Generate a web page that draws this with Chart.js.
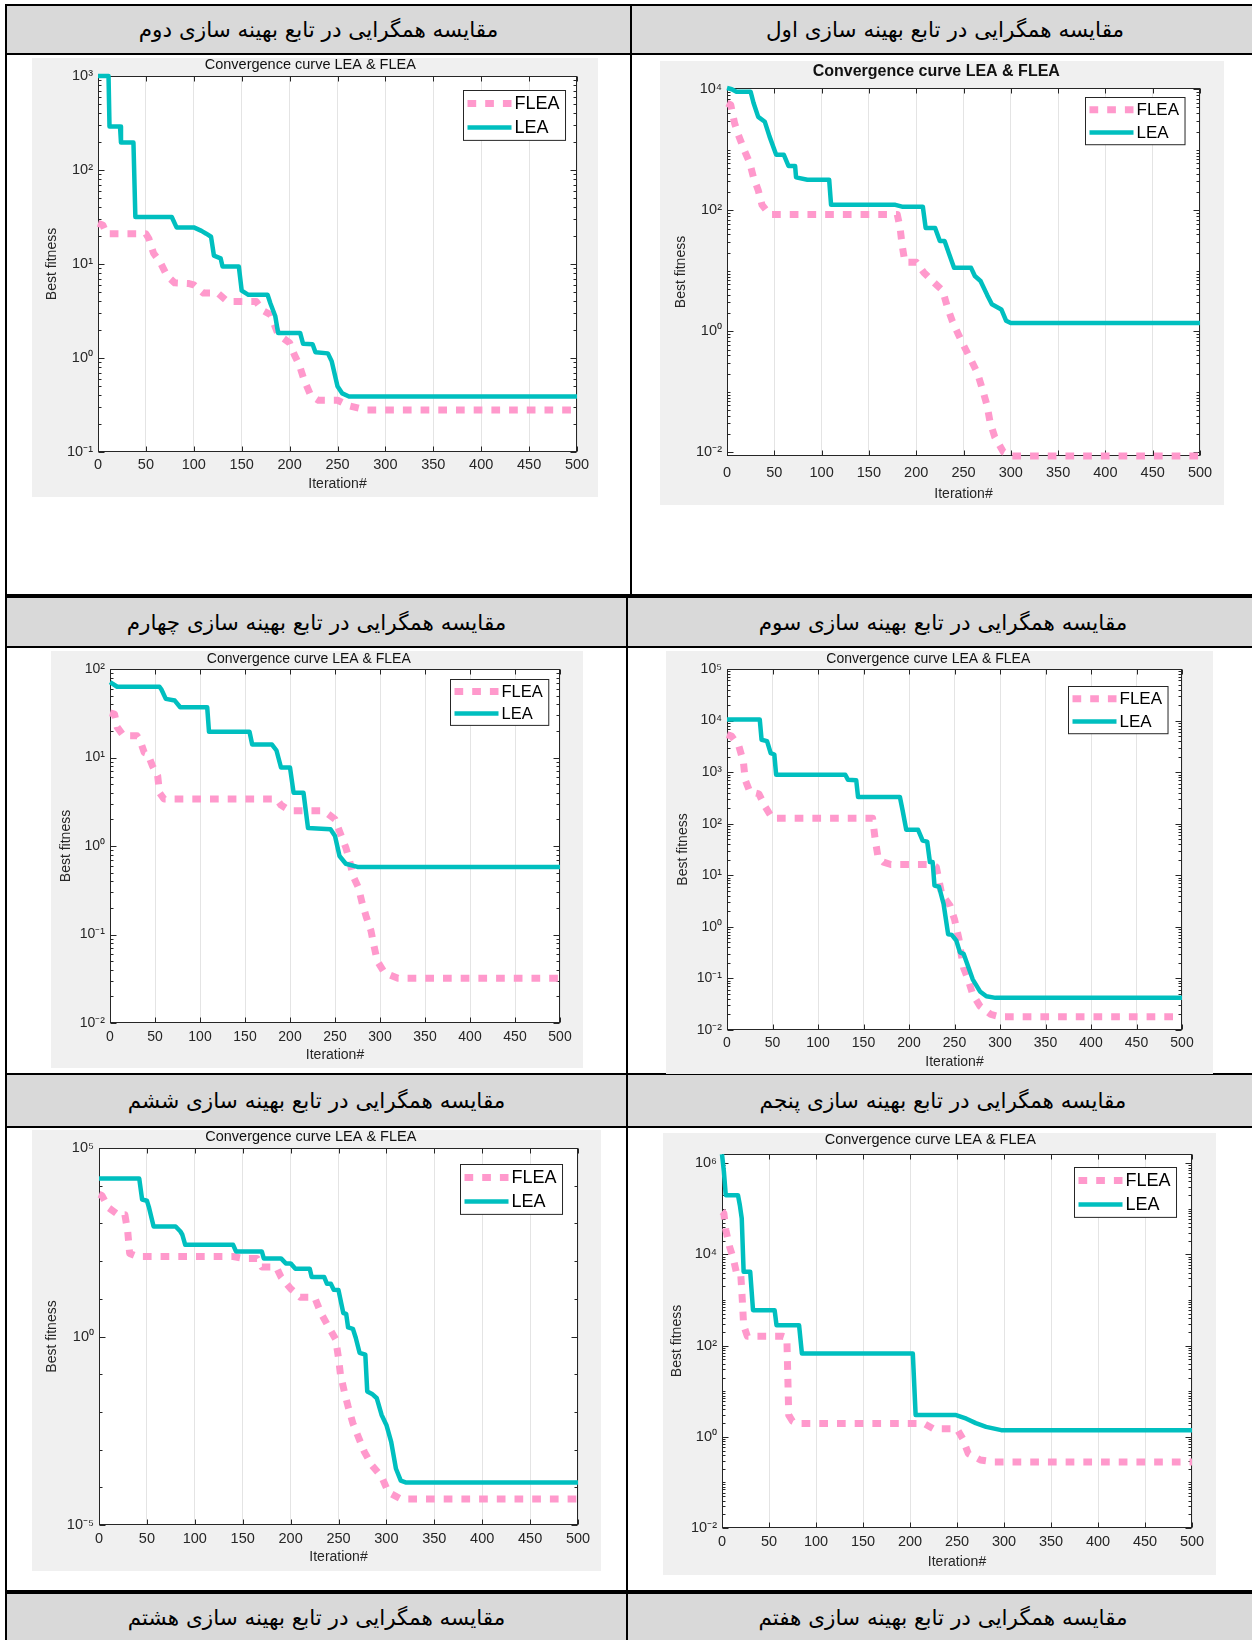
<!DOCTYPE html>
<html>
<head>
<meta charset="utf-8">
<script src="https://cdn.jsdelivr.net/npm/chart.js@4.4.0/dist/chart.umd.min.js"></script>
<style>
body { margin: 0; width: 1252px; height: 1640px; overflow: hidden; background: #fff; position: relative; }
.hd { position: absolute; background: #d9d9d9; display: flex; align-items: center; justify-content: center;
      font-family: "DejaVu Sans", sans-serif; font-size: 21.5px; color: #000; direction: rtl; white-space: nowrap; }
.ln { position: absolute; background: #000; }
.box { position: absolute; background: #f0f0f0; }
.box canvas { display: block; }
</style>
</head>
<body>
<script>
// cell headings, first / second / ... (odd ones sit in the right column)
const headerTitles = [
    "مقایسه همگرایی در تابع بهینه سازی اول",
    "مقایسه همگرایی در تابع بهینه سازی دوم",
    "مقایسه همگرایی در تابع بهینه سازی سوم",
    "مقایسه همگرایی در تابع بهینه سازی چهارم",
    "مقایسه همگرایی در تابع بهینه سازی پنجم",
    "مقایسه همگرایی در تابع بهینه سازی ششم",
    "مقایسه همگرایی در تابع بهینه سازی هفتم",
    "مقایسه همگرایی در تابع بهینه سازی هشتم"
];

const xTicks = [0, 50, 100, 150, 200, 250, 300, 350, 400, 450, 500];

// function 1
const lea1Iter = [0, 5, 10, 25, 28, 33, 40, 45, 52, 60, 65, 72, 73, 85, 108, 110, 178, 185, 207, 210, 220, 225, 230, 235, 240, 258, 262, 268, 275, 280, 290, 295, 300, 500];
const lea1Fit = [10500, 10000, 9100, 9100, 6000, 3500, 2900, 1650, 830, 830, 540, 540, 350, 320, 320, 123, 123, 115, 115, 51, 51, 31, 31, 18.6, 11.2, 11.2, 8.2, 6.8, 4, 2.8, 2.3, 1.5, 1.37, 1.37];
const flea1Iter = [0, 4, 8, 12, 18, 24, 28, 33, 37, 45, 180, 183, 185, 188, 200, 208, 217, 228, 233, 238, 245, 250, 257, 265, 270, 275, 278, 283, 292, 300, 500];
const flea1Fit = [5900, 5500, 2760, 1770, 1000, 610, 350, 215, 123, 85, 85, 51, 27.5, 13.9, 13.9, 9.4, 6.8, 4.7, 2.5, 1.5, 0.86, 0.59, 0.36, 0.2, 0.11, 0.059, 0.032, 0.018, 0.0102, 0.0087, 0.0087];
const yLim1 = [0.0087, 10500];
const yTicks1 = [1e-2, 1, 1e2, 1e4];

// function 2
const lea2Iter = [0, 11, 12, 23, 24, 37, 39, 77, 82, 100, 108, 113, 118, 121, 128, 130, 147, 150, 157, 177, 180, 185, 188, 211, 214, 224, 227, 240, 244, 250, 255, 262, 500];
const lea2Fit = [1000, 1000, 290, 290, 196, 196, 31.6, 31.6, 24.5, 24.5, 22.5, 21, 19.5, 12.3, 11.5, 9.4, 9.4, 5.2, 4.7, 4.7, 3.8, 2.8, 1.85, 1.85, 1.42, 1.4, 1.15, 1.12, 0.92, 0.5, 0.42, 0.39, 0.39];
const flea2Iter = [0, 5, 9, 50, 53, 58, 65, 72, 80, 95, 100, 110, 125, 135, 165, 172, 180, 188, 200, 205, 210, 215, 222, 230, 250, 262, 280, 500];
const flea2Fit = [27, 26, 21, 21, 18.7, 13, 10.4, 7.5, 6.3, 6.2, 6, 4.9, 4.9, 4.0, 4.0, 3.2, 2.9, 1.78, 1.45, 1.08, 0.85, 0.59, 0.40, 0.355, 0.355, 0.31, 0.28, 0.28];
const yLim2 = [0.1, 1000];
const yTicks2 = [1e-1, 1, 10, 100, 1000];

// function 3
const lea3Iter = [0, 36, 38, 44, 48, 52, 54, 130, 133, 142, 144, 190, 193, 197, 210, 215, 220, 223, 226, 228, 233, 238, 243, 247, 252, 256, 260, 270, 278, 285, 295, 500];
const lea3Fit = [10500, 10500, 4250, 4000, 2340, 2200, 890, 890, 710, 700, 330, 330, 180, 76, 76, 47, 45, 18, 18, 6.3, 6, 2.8, 0.72, 0.7, 0.54, 0.32, 0.3, 0.096, 0.056, 0.045, 0.042, 0.042];
const flea3Iter = [0, 5, 13, 18, 20, 25, 35, 42, 50, 160, 163, 166, 172, 180, 225, 230, 236, 245, 250, 255, 257, 260, 265, 270, 278, 290, 300, 500];
const flea3Fit = [5350, 5000, 3200, 1600, 710, 420, 380, 213, 127, 127, 47, 22.5, 18, 16.2, 16.2, 14.5, 4.3, 2.6, 1.4, 0.57, 0.32, 0.16, 0.095, 0.049, 0.029, 0.020, 0.018, 0.018];
const yLim3 = [0.01, 1e5];
const yTicks3 = [1e-2, 1e-1, 1, 10, 100, 1e3, 1e4, 1e5];

// function 4
const lea4Iter = [0, 8, 55, 57, 62, 72, 78, 108, 110, 155, 158, 180, 185, 190, 200, 204, 215, 220, 245, 250, 255, 262, 275, 500];
const lea4Fit = [71, 63, 63, 59, 46, 44, 37, 37, 19.5, 19.5, 14, 14, 12, 7.7, 7.7, 4, 4, 1.6, 1.55, 1.3, 0.77, 0.63, 0.58, 0.58];
const flea4Iter = [0, 5, 8, 15, 30, 33, 38, 42, 47, 53, 55, 60, 185, 190, 200, 235, 240, 250, 257, 262, 266, 270, 276, 280, 285, 290, 293, 297, 305, 320, 500];
const flea4Fit = [32, 31, 22, 17.6, 17.6, 16, 11.4, 11, 8.1, 6.2, 4, 3.4, 3.4, 2.9, 2.5, 2.5, 2.4, 2, 1.3, 0.96, 0.7, 0.46, 0.34, 0.23, 0.155, 0.11, 0.077, 0.05, 0.037, 0.032, 0.032];
const yLim4 = [0.01, 100];
const yTicks4 = [1e-2, 1e-1, 1, 10, 100];

// function 5
const lea5Iter = [0, 2, 4, 17, 19, 21, 23, 30, 33, 56, 58, 82, 85, 203, 206, 249, 260, 270, 281, 297, 500];
const lea5Fit = [1.58e6, 660000, 200000, 200000, 120000, 62000, 4200, 4200, 600, 600, 280, 280, 67, 67, 3, 3, 2.5, 2.0, 1.65, 1.4, 1.4];
const flea5Iter = [0, 2, 4, 8, 12, 16, 20, 21, 22, 23, 27, 65, 69, 71, 75, 80, 215, 225, 250, 256, 262, 275, 290, 500];
const flea5Fit = [87000, 80000, 35000, 15000, 8200, 3500, 3500, 1650, 715, 280, 160, 160, 150, 3, 2.2, 1.96, 1.96, 1.5, 1.5, 0.92, 0.43, 0.31, 0.28, 0.28];
const yLim5 = [0.01, 1.6e6];
const yTicks5 = [1e-2, 1, 1e2, 1e4, 1e6];

// function 6
const lea6Iter = [0, 42, 45, 50, 52, 57, 80, 85, 87, 90, 140, 143, 170, 172, 190, 195, 200, 205, 220, 222, 235, 238, 242, 245, 250, 255, 258, 260, 265, 268, 272, 278, 280, 285, 290, 295, 300, 305, 310, 315, 320, 500];
const lea6Fit = [15500, 15500, 4300, 4000, 2750, 830, 830, 610, 500, 270, 270, 180, 180, 118, 118, 87, 87, 63, 63, 38, 38, 25, 25, 17.4, 17, 4.2, 4, 1.74, 1.6, 0.93, 0.37, 0.33, 0.035, 0.03, 0.023, 0.0083, 0.0045, 0.0016, 0.00031, 0.00015, 0.000135, 0.000135];
const flea6Iter = [0, 3, 10, 20, 27, 30, 32, 40, 140, 150, 165, 170, 185, 190, 200, 210, 225, 232, 240, 247, 250, 252, 256, 260, 265, 270, 277, 285, 295, 302, 315, 500];
const flea6Fit = [5900, 5500, 2600, 1700, 1700, 610, 160, 132, 132, 118, 118, 70, 70, 38, 18.6, 11, 11, 4, 1.74, 0.85, 0.27, 0.1, 0.035, 0.014, 0.005, 0.0024, 0.00087, 0.00038, 0.00019, 0.000074, 0.000049, 0.000049];
const yLim6 = [1e-5, 1e5];
const yTicks6 = [1e-5, 1, 1e5];

// ---------- table ----------
function addDiv(cls, x, y, w, h, text) {
    const d = document.createElement("div");
    d.className = cls;
    d.style.left = x + "px";
    d.style.top = y + "px";
    d.style.width = w + "px";
    d.style.height = h + "px";
    if (text) d.textContent = text;
    document.body.appendChild(d);
    return d;
}

// gray heading rows: [top, height, divider x]
const headRows = [[6, 47, 630], [598, 48, 626], [1075, 51, 626], [1594, 46, 626]];
headRows.forEach((r, i) => {
    addDiv("hd", 7, r[0], r[2] - 7, r[1], headerTitles[i * 2 + 1]);
    addDiv("hd", r[2] + 2, r[0], 1258 - r[2] - 2, r[1], headerTitles[i * 2]);
});

// rules
[[4, 2], [53, 2], [594, 4], [646, 2], [1073, 2], [1126, 2], [1590, 4]].forEach(h => addDiv("ln", 5, h[0], 1247, h[1]));
addDiv("ln", 5, 4, 2, 1636);
addDiv("ln", 630, 4, 2, 592);
addDiv("ln", 626, 596, 2, 1044);

// ---------- charts ----------
const sup = { "0": "⁰", "1": "¹", "2": "²", "3": "³", "4": "⁴", "5": "⁵", "6": "⁶", "-": "⁻" };
function powLabel(v) {
    const e = Math.round(Math.log10(v));
    return "10" + String(e).split("").map(c => sup[c]).join("");
}

Chart.defaults.font.family = '"Liberation Sans", Arial, sans-serif';
Chart.defaults.color = "#262626";

const axesBox = {
    id: "axesBox",
    beforeDraw(chart) {
        const { ctx, chartArea: a } = chart;
        ctx.save();
        ctx.fillStyle = "#fff";
        ctx.fillRect(a.left, a.top, a.width, a.height);
        ctx.restore();
    },
    beforeDatasetsDraw(chart, args, o) {
        const { ctx, chartArea: a, scales } = chart;
        ctx.save();
        ctx.strokeStyle = "#262626";
        ctx.lineWidth = 1;
        const L = Math.round(a.left) + 0.5, R = Math.round(a.right) - 0.5;
        const T = Math.round(a.top) + 0.5, B = Math.round(a.bottom) - 0.5;
        ctx.strokeRect(L, T, R - L, B - T);
        ctx.beginPath();
        xTicks.forEach(v => {
            const px = Math.round(scales.x.getPixelForValue(v)) + 0.5;
            ctx.moveTo(px, B); ctx.lineTo(px, B - 5);
            ctx.moveTo(px, T); ctx.lineTo(px, T + 5);
        });
        const labelExp = o.yLabels.map(v => Math.round(Math.log10(v)));
        const lo = Math.floor(Math.log10(scales.y.min)), hi = Math.ceil(Math.log10(scales.y.max));
        const mults = o.minor === "sub" ? [1, 2, 3, 4, 5, 6, 7, 8, 9] : [1];
        for (let d = lo; d <= hi; d++) {
            mults.forEach(m => {
                const v = m * Math.pow(10, d);
                if (v < scales.y.min * 0.999 || v > scales.y.max * 1.001) return;
                const len = (m === 1 && labelExp.includes(d)) ? 6 : 3;
                const py = Math.round(scales.y.getPixelForValue(v)) + 0.5;
                ctx.moveTo(L, py); ctx.lineTo(L + len, py);
                ctx.moveTo(R, py); ctx.lineTo(R - len, py);
            });
        }
        ctx.stroke();
        ctx.restore();
    },
    afterDraw(chart, args, o) {
        const { ctx, chartArea: a } = chart;
        const fs = o.legendFont;
        ctx.save();
        ctx.font = fs + 'px "Liberation Sans", Arial, sans-serif';
        const sets = chart.data.datasets;
        const tw = Math.max(...sets.map(s => ctx.measureText(s.label).width));
        const sample = 44, rowH = fs * 1.33;
        const w = 4 + sample + 3 + tw + 6, h = rowH * sets.length + 2;
        const x = Math.round(a.right - o.legendRight - w) + 0.5;
        const y = Math.round(a.top + o.legendTop) + 0.5;
        ctx.fillStyle = "#fff";
        ctx.fillRect(x, y, w, h);
        ctx.strokeStyle = "#262626";
        ctx.lineWidth = 1;
        ctx.strokeRect(x, y, w, h);
        sets.forEach((s, i) => {
            const cy = y + 1 + rowH * (i + 0.5);
            ctx.beginPath();
            ctx.strokeStyle = s.borderColor;
            ctx.lineWidth = s.borderWidth;
            ctx.setLineDash(s.borderDash || []);
            ctx.lineCap = "butt";
            ctx.moveTo(x + 4, cy);
            ctx.lineTo(x + 4 + sample, cy);
            ctx.stroke();
            ctx.setLineDash([]);
            ctx.fillStyle = "#000";
            ctx.textBaseline = "middle";
            ctx.fillText(s.label, x + 4 + sample + 3, cy + 1);
        });
        ctx.restore();
    }
};
Chart.register(axesBox);

function points(iters, vals) {
    return iters.map((x, i) => ({ x: x, y: vals[i] }));
}

function makeChart(lay, fleaIter, fleaFit, leaIter, leaFit, yLim, yLabels, minor) {
    const [bx, by, bw, bh] = lay.box;
    const [al, at, ar, ab] = lay.area;
    const wrap = addDiv("box", bx, by, bw, bh);
    const cv = document.createElement("canvas");
    cv.width = bw;
    cv.height = bh;
    wrap.appendChild(cv);

    const titlePadTop = Math.max(0, lay.titleY - by - lay.titleSize / 2);
    const titlePadBottom = at - by - titlePadTop - lay.titleSize;
    const axLh = 14 * 1.2;
    const padLeft = lay.yTitleX - bx - axLh / 2;
    const yW = al - bx - padLeft;
    const xH = lay.xTitleY - ab + axLh / 2;
    const padBottom = by + bh - ab - xH;
    const padRight = bx + bw - ar;
    const tickPad = lay.xTickY - ab - lay.tickFont * 0.6;

    new Chart(cv, {
        type: "line",
        data: {
            datasets: [{
                label: "FLEA",
                data: points(fleaIter, fleaFit),
                borderColor: "#ff99cc",
                borderWidth: 7,
                borderDash: [8.7, 9],
                borderCapStyle: "butt",
                borderJoinStyle: "round",
                pointRadius: 0,
                fill: false,
                clip: 10,
                order: 1
            }, {
                label: "LEA",
                data: points(leaIter, leaFit),
                borderColor: "#00bfbf",
                borderWidth: 4.5,
                borderCapStyle: "butt",
                borderJoinStyle: "round",
                pointRadius: 0,
                fill: false,
                clip: 10,
                order: 0
            }]
        },
        options: {
            responsive: false,
            animation: false,
            devicePixelRatio: 1,
            layout: { padding: { left: padLeft, right: padRight, top: 0, bottom: padBottom } },
            scales: {
                x: {
                    type: "linear", min: 0, max: 500,
                    afterBuildTicks: axis => { axis.ticks = xTicks.map(v => ({ value: v })); },
                    ticks: { autoSkip: false, maxRotation: 0, padding: tickPad, font: { size: lay.tickFont } },
                    grid: { color: "#e4e4e4", drawTicks: false },
                    border: { display: false },
                    title: { display: true, text: "Iteration#", padding: 0, font: { size: 14 } },
                    afterFit: s => { s.height = xH; }
                },
                y: {
                    type: "logarithmic", min: yLim[0], max: yLim[1],
                    afterBuildTicks: axis => { axis.ticks = yLabels.map(v => ({ value: v })); },
                    ticks: { autoSkip: false, padding: 5, font: { size: lay.tickFont }, callback: v => powLabel(v) },
                    grid: { display: false, drawTicks: false },
                    border: { display: false },
                    title: { display: true, text: "Best fitness", padding: 0, font: { size: 14 } },
                    afterFit: s => { s.width = yW; }
                }
            },
            plugins: {
                legend: { display: false },
                tooltip: { enabled: false },
                title: {
                    display: true,
                    text: "Convergence curve LEA & FLEA",
                    color: "#111",
                    font: { size: lay.titleSize, weight: lay.bold ? "bold" : "normal", lineHeight: 1 },
                    padding: { top: titlePadTop, bottom: titlePadBottom }
                },
                axesBox: {
                    yLabels: yLabels, minor: minor,
                    legendFont: lay.legendFont, legendRight: lay.legendRight, legendTop: lay.legendTop
                }
            }
        }
    });
}

makeChart({ box: [660, 61, 564, 444], area: [727, 88, 1200, 456], titleY: 72, titleSize: 16, bold: true, yTitleX: 681, xTickY: 473, xTitleY: 494, tickFont: 14.5, legendFont: 17, legendRight: 15, legendTop: 9 },
    flea1Iter, flea1Fit, lea1Iter, lea1Fit, yLim1, yTicks1, "sub");
makeChart({ box: [32, 58, 566, 439], area: [98, 76, 577, 452], titleY: 65, titleSize: 14.5, yTitleX: 52, xTickY: 465, xTitleY: 484, tickFont: 14.5, legendFont: 18, legendRight: 12, legendTop: 14 },
    flea2Iter, flea2Fit, lea2Iter, lea2Fit, yLim2, yTicks2, "sub");
makeChart({ box: [666, 651, 547, 423], area: [727, 669, 1182, 1030], titleY: 659, titleSize: 14, yTitleX: 683, xTickY: 1043, xTitleY: 1062, tickFont: 14, legendFont: 17, legendRight: 14, legendTop: 17 },
    flea3Iter, flea3Fit, lea3Iter, lea3Fit, yLim3, yTicks3, "sub");
makeChart({ box: [51, 651, 532, 417], area: [110, 669, 560, 1023], titleY: 659, titleSize: 14, yTitleX: 66, xTickY: 1037, xTitleY: 1055, tickFont: 14, legendFont: 16.5, legendRight: 12, legendTop: 10 },
    flea4Iter, flea4Fit, lea4Iter, lea4Fit, yLim4, yTicks4, "sub");
makeChart({ box: [663, 1133, 553, 442], area: [722, 1154, 1192, 1528], titleY: 1140, titleSize: 14.5, yTitleX: 677, xTickY: 1542, xTitleY: 1562, tickFont: 14.5, legendFont: 18, legendRight: 16, legendTop: 13 },
    flea5Iter, flea5Fit, lea5Iter, lea5Fit, yLim5, yTicks5, "sub");
makeChart({ box: [32, 1130, 569, 441], area: [99, 1148, 578, 1525], titleY: 1137, titleSize: 14.5, yTitleX: 52, xTickY: 1539, xTitleY: 1557, tickFont: 14.5, legendFont: 18, legendRight: 16, legendTop: 16 },
    flea6Iter, flea6Fit, lea6Iter, lea6Fit, yLim6, yTicks6, "decade");
</script>
</body>
</html>
